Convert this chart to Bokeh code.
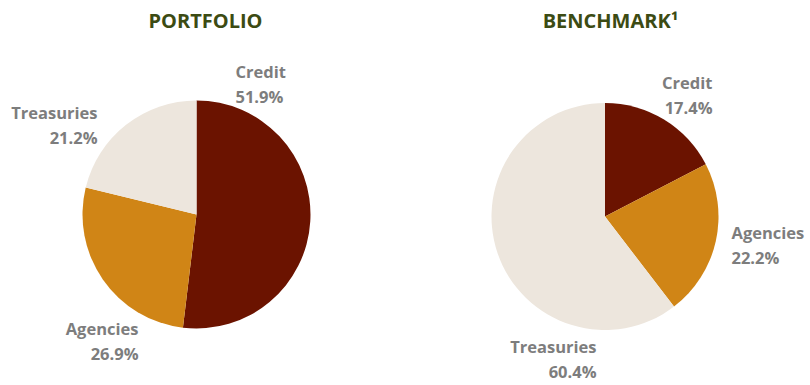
import math
from bokeh.plotting import figure
from bokeh.models import Range1d, ColumnDataSource
from bokeh.core.properties import value
from bokeh.embed import file_html
from bokeh.resources import INLINE

categories = ["Credit", "Agencies", "Treasuries"]
portfolio = [51.9, 26.9, 21.2]
benchmark = [17.4, 22.2, 60.4]
titles = ["PORTFOLIO", "BENCHMARK\u00b9"]
colors = ["#6B1300", "#D08516", "#EDE6DD"]

W, H = 810, 385
FONT = "Open Sans"
LABEL_COLOR = "#7D7D7D"
TITLE_COLOR = "#3C4B13"

# layout (pixel coords, y measured from top)
pies = [
    dict(cx=196, cy=214, r=114, tx=205, ty=20,
         labels=[(235, 71, "left"), (138, 328, "right"), (97, 112, "right")]),
    dict(cx=604.5, cy=216, r=113.5, tx=610, ty=20,
         labels=[(712, 82, "right"), (731, 232, "left"), (596, 346, "right")]),
]

p = figure(width=W, height=H, x_range=Range1d(0, W), y_range=Range1d(0, H),
           output_backend="svg", toolbar_location=None, min_border=0)
p.axis.visible = False
p.grid.visible = False
p.outline_line_color = None
p.background_fill_color = "white"
p.border_fill_color = "white"

for series, layout, title in zip([portfolio, benchmark], pies, titles):
    total = sum(series)
    starts, ends = [], []
    cum = 0.0
    for v in series:
        starts.append(math.pi / 2 - 2 * math.pi * cum / total)
        cum += v
        ends.append(math.pi / 2 - 2 * math.pi * cum / total)
    src = ColumnDataSource(dict(x=[layout["cx"]] * 3, y=[H - layout["cy"]] * 3,
                                start=starts, end=ends, color=colors))
    p.wedge(x="x", y="y", radius=layout["r"], radius_units="screen",
            start_angle="start", end_angle="end", direction="clock",
            fill_color="color", line_color=None, source=src)

    p.text(x=[layout["tx"]], y=[H - layout["ty"]], text=[title],
           text_font=value(FONT), text_font_style="bold", text_font_size="20px",
           text_color=TITLE_COLOR, text_align="center", text_baseline="middle")

    for cat, v, (lx, ly, al) in zip(categories, series, layout["labels"]):
        p.text(x=[lx, lx], y=[H - ly, H - ly - 25], text=[cat, f"{v}%"],
               text_font=value(FONT), text_font_style="bold", text_font_size="16.5px",
               text_color=LABEL_COLOR, text_align=al, text_baseline="middle")

open("out.html", "w").write(file_html(p, INLINE))
